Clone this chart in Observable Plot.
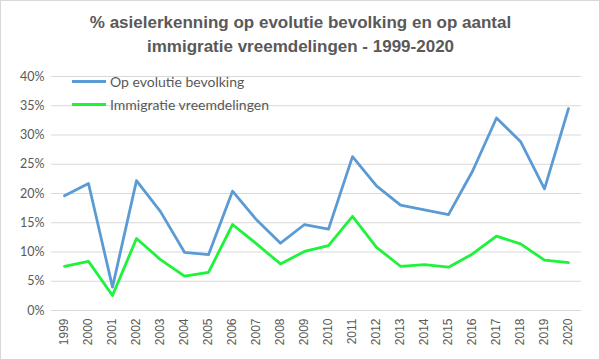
<!DOCTYPE html>
<html>
<head>
<meta charset="utf-8">
<script src="https://cdn.jsdelivr.net/npm/d3@7"></script>
<script src="https://cdn.jsdelivr.net/npm/@observablehq/plot@0.6"></script>
<style>
  html, body { margin: 0; padding: 0; background: #fff; }
  #wrap { position: relative; width: 599px; height: 359px; box-sizing: border-box; border-left: 1px solid #d9d9d9; border-top: 1px solid #d9d9d9; overflow: hidden; }
  #title { position: absolute; left: 0; top: 10px; width: 599px; text-align: center; font-family: "Liberation Sans", Arial, sans-serif; font-weight: bold; font-size: 17px; line-height: 24px; color: #595959; }
  #chart { position: absolute; left: -1px; top: 59px; }
  .leg { position: absolute; left: 71px; font-family: Lato, "Open Sans", sans-serif; font-size: 14px; color: #595959; display: flex; align-items: center; }
  .leg span.sw { display: inline-block; width: 34px; height: 3px; margin-right: 4px; }
</style>
</head>
<body>
<div id="wrap">
  <div id="title">% asielerkenning op evolutie bevolking en op aantal<br>immigratie vreemdelingen - 1999-2020</div>
  <div id="chart"></div>
  <div class="leg" id="leg1" style="top:72px"><span class="sw" style="background:#5b9bd5"></span><span>Op evolutie bevolking</span></div>
  <div class="leg" id="leg2" style="top:95px"><span class="sw" style="background:#1ef23a"></span><span>Immigratie vreemdelingen</span></div>
</div>
<script>
const years = ["1999","2000","2001","2002","2003","2004","2005","2006","2007","2008","2009","2010","2011","2012","2013","2014","2015","2016","2017","2018","2019","2020"];
const bevolking = [0.196,0.217,0.040,0.222,0.169,0.0995,0.0955,0.204,0.155,0.115,0.147,0.139,0.263,0.213,0.180,0.172,0.164,0.238,0.329,0.289,0.208,0.345];
const immigratie = [0.0756,0.084,0.0256,0.123,0.087,0.0586,0.065,0.147,0.114,0.0796,0.101,0.111,0.161,0.108,0.0756,0.0785,0.074,0.0966,0.127,0.114,0.086,0.082];
const yTicks = [0,0.05,0.10,0.15,0.20,0.25,0.30,0.35,0.40];
const seriesNames = ["Op evolutie bevolking","Immigratie vreemdelingen"];
const colors = ["#5b9bd5","#1ef23a"];

const data = [];
years.forEach((y,i)=>{
  data.push({year:y, value:bevolking[i], series:seriesNames[0]});
  data.push({year:y, value:immigratie[i], series:seriesNames[1]});
});

const chart = Plot.plot({
  width: 599,
  height: 300,
  marginTop: 16,
  marginBottom: 50,
  marginLeft: 51,
  marginRight: 18,
  style: {fontFamily: "Lato, sans-serif", fontSize: "12px", color: "#595959", background: "transparent"},
  x: {type: "point", domain: years, padding: 0.5, label: null},
  y: {domain: [0, 0.4], ticks: yTicks, tickFormat: d3.format(".0%"), label: null},
  color: {domain: seriesNames, range: colors},
  marks: [
    Plot.ruleY(yTicks, {stroke: "#d9d9d9", strokeWidth: 1}),
    Plot.axisY({ticks: yTicks, tickFormat: d3.format(".0%"), tickSize: 0, tickPadding: 7, fontSize: 12.5, fill: "#595959", label: null}),
    Plot.axisX({tickRotate: -90, tickSize: 0, tickPadding: 8, fontFamily: "Liberation Sans, Arial, sans-serif", fontSize: 12, fill: "#595959", label: null}),
    Plot.line(data, {x: "year", y: "value", z: "series", stroke: "series", strokeWidth: 2.8, strokeLinejoin: "round"})
  ]
});
document.getElementById("chart").appendChild(chart);
</script>
</body>
</html>
